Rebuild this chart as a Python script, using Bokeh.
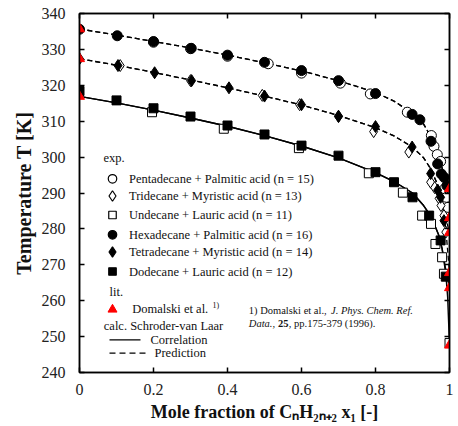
from bokeh.plotting import figure
from bokeh.models import Label, LinearAxis, Range1d, FixedTicker
from bokeh.embed import file_html
from bokeh.resources import INLINE

# ---------------- data ----------------
x_ticks = [0, 0.2, 0.4, 0.6, 0.8, 1]
x_tick_labels = ["0", "0.2", "0.4", "0.6", "0.8", "1"]
y_ticks = [240, 250, 260, 270, 280, 290, 300, 310, 320, 330, 340]

# calculated liquidus curves (Schroder-van Laar)
curve_x = [0, 0.1, 0.2, 0.3, 0.4, 0.5, 0.6, 0.7, 0.8, 0.85, 0.9, 0.93, 0.95, 0.97, 0.98, 0.99, 1.0]
hexadecane_curve = [335.7, 334.0, 332.2, 330.4, 328.4, 326.3, 324.0, 321.3, 318.0, 315.6, 312.2, 309.2, 305.6, 300.5, 297.0, 293.2, 291.2]
pentadecane_curve_x = [0, 0.1, 0.2, 0.3, 0.4, 0.5, 0.6, 0.7, 0.8, 0.85, 0.9, 0.93, 0.95, 0.97, 0.98, 0.99, 0.995, 1.0]
pentadecane_curve = [335.7, 334.0, 332.2, 330.4, 328.4, 326.3, 324.0, 321.3, 318.0, 315.6, 312.2, 309.2, 305.6, 300.5, 297.0, 290.5, 285.5, 283.1]
tetradecane_curve = [327.4, 325.6, 323.6, 321.5, 319.3, 317.0, 314.5, 311.6, 308.2, 305.9, 302.8, 299.8, 296.6, 291.8, 288.2, 283.0, 279.0]
tridecane_curve_x = [0, 0.1, 0.2, 0.3, 0.4, 0.5, 0.6, 0.7, 0.8, 0.85, 0.9, 0.93, 0.95, 0.97, 0.98, 0.99, 0.995, 1.0]
tridecane_curve = [327.4, 325.6, 323.6, 321.5, 319.3, 317.0, 314.5, 311.6, 308.2, 305.9, 302.8, 299.8, 296.6, 291.8, 287.5, 280.0, 274.0, 267.8]
dodecane_curve = [316.9, 315.1, 313.1, 310.9, 308.6, 306.0, 303.1, 299.8, 295.7, 293.2, 290.0, 286.5, 283.5, 278.5, 274.5, 268.5, 263.6]
undecane_curve_x = [0, 0.1, 0.2, 0.3, 0.4, 0.5, 0.6, 0.7, 0.8, 0.85, 0.9, 0.93, 0.95, 0.97, 0.98, 0.99, 0.995, 1.0]
undecane_curve = [316.9, 315.1, 313.1, 310.9, 308.6, 306.0, 303.1, 299.8, 295.7, 293.2, 290.0, 286.5, 283.5, 278.5, 274.5, 267.5, 261.0, 247.6]

# experimental data
pentadecane_x = [0.2, 0.3, 0.4, 0.51, 0.6, 0.705, 0.786, 0.886, 0.951, 0.958, 0.967, 0.976, 0.987, 0.992, 0.996]
pentadecane_T = [332.0, 330.2, 328.1, 326.0, 323.4, 320.6, 317.6, 312.5, 306.0, 303.0, 300.7, 298.8, 291.2, 288.8, 286.0]
tridecane_x = [0.11, 0.3, 0.494, 0.595, 0.7, 0.795, 0.89, 0.949, 0.96, 0.972, 0.977, 0.985, 0.99]
tridecane_T = [325.5, 321.3, 317.2, 314.6, 311.4, 307.1, 301.4, 293.0, 291.5, 288.5, 286.5, 283.7, 279.1]
undecane_x = [0.196, 0.39, 0.593, 0.782, 0.874, 0.926, 0.95, 0.962, 0.98, 0.985, 1.0]
undecane_T = [312.5, 307.9, 302.5, 295.5, 290.1, 283.7, 281.4, 275.8, 272.1, 267.5, 248.2]
hexadecane_x = [0.0, 0.102, 0.2, 0.302, 0.4, 0.5, 0.6, 0.7, 0.8, 0.899, 0.92, 0.95, 0.968, 0.978, 0.986, 0.993]
hexadecane_T = [335.6, 333.8, 332.2, 330.3, 328.4, 326.4, 324.1, 321.3, 317.7, 311.9, 310.4, 304.4, 298.1, 295.3, 294.3, 292.0]
tetradecane_x = [0.0, 0.104, 0.203, 0.303, 0.404, 0.5, 0.6, 0.7, 0.8, 0.899, 0.949, 0.968, 0.976, 0.985]
tetradecane_T = [327.4, 325.5, 323.5, 321.3, 319.3, 317.0, 314.6, 311.3, 308.5, 302.8, 295.4, 290.8, 288.8, 282.3]
dodecane_x = [0.0, 0.1, 0.2, 0.3, 0.4, 0.5, 0.6, 0.7, 0.8, 0.85, 0.9, 0.945, 0.976, 0.99]
dodecane_T = [318.4, 315.8, 313.6, 311.3, 308.8, 306.3, 303.2, 300.4, 295.8, 293.0, 288.8, 283.7, 276.8, 266.7]

# literature (Domalski et al.)
lit_x = [0, 0, 0, 1, 1, 1, 1, 1, 1]
lit_T = [335.7, 327.4, 316.9, 291.2, 283.1, 279.0, 267.8, 263.6, 247.6]

legend_names = [
    "Pentadecane  + Palmitic acid (n = 15)",
    "Tridecane + Myristic acid (n = 13)",
    "Undecane + Lauric acid (n = 11)",
    "Hexadecane  + Palmitic acid (n = 16)",
    "Tetradecane + Myristic acid (n = 14)",
    "Dodecane + Lauric acid (n = 12)",
]

# ---------------- layout helpers ----------------
FL, FR, FT, FB = 79, 449, 13, 372
X0, X1, Y0, Y1 = 0.0, 1.0, 240.0, 340.0


def dx(px):
    return X0 + (px - FL) * (X1 - X0) / (FR - FL)


def dy(py):
    return Y1 - (py - FT) * (Y1 - Y0) / (FB - FT)


FONT = "Liberation Serif"

p = figure(width=458, height=426, x_range=Range1d(X0, X1), y_range=Range1d(Y0, Y1),
           output_backend="svg", toolbar_location=None,
           min_border_left=FL, min_border_right=458 - FR, min_border_top=FT, min_border_bottom=426 - FB)
p.grid.visible = False
p.outline_line_color = "black"
p.outline_line_width = 1.5

xt = FixedTicker(ticks=x_ticks)
yt = FixedTicker(ticks=y_ticks)
p.xaxis.ticker = xt
p.yaxis.ticker = yt
p.xaxis.major_label_overrides = {t: s for t, s in zip(x_ticks, x_tick_labels)}

for ax in [p.xaxis[0], p.yaxis[0]]:
    ax.major_tick_in = 5
    ax.major_tick_out = 0
    ax.minor_tick_line_color = None
    ax.axis_line_width = 1.5
    ax.major_tick_line_width = 1.5
    ax.major_label_text_font = FONT
    ax.major_label_text_font_size = "16px"
    ax.major_label_text_color = "#222222"
p.xaxis.major_label_standoff = 11
p.yaxis.major_label_standoff = 14
p.yaxis.axis_label = "Temperature T [K]"
p.yaxis.axis_label_text_font = FONT
p.yaxis.axis_label_text_font_size = "20px"
p.yaxis.axis_label_text_font_style = "bold"
p.yaxis.axis_label_text_color = "#111111"
p.yaxis.axis_label_standoff = 4
p.xaxis.axis_label = "Mole fraction of CₙH₂ₙ₊₂ x₁ [-]"
p.xaxis.axis_label_text_font = FONT
p.xaxis.axis_label_text_font_size = "18px"
p.xaxis.axis_label_text_font_style = "bold"
p.xaxis.axis_label_text_color = "#111111"
p.xaxis.axis_label_standoff = 4

for loc, tk, ticks in [("right", yt, y_ticks), ("above", xt, x_ticks)]:
    ax = LinearAxis(ticker=tk, major_tick_in=5, major_tick_out=0, minor_tick_line_color=None,
                    axis_line_width=1.5, major_tick_line_width=1.5,
                    major_label_overrides={t: "" for t in ticks},
                    major_label_text_font_size="1px", major_label_standoff=0)
    p.add_layout(ax, loc)

# curves
dash = "5 3"
p.line(pentadecane_curve_x, pentadecane_curve, line_color="black", line_width=1.3, line_dash=dash)
p.line(curve_x, hexadecane_curve, line_color="black", line_width=1.3, line_dash=dash)
p.line(tridecane_curve_x, tridecane_curve, line_color="black", line_width=1.3, line_dash=dash)
p.line(curve_x, tetradecane_curve, line_color="black", line_width=1.3, line_dash=dash)
p.line(undecane_curve_x, undecane_curve, line_color="black", line_width=1.4)
p.line(curve_x, dodecane_curve, line_color="black", line_width=1.4)

# markers
styles = [
    (pentadecane_x, pentadecane_T, "circle", 10, "white"),
    (tridecane_x, tridecane_T, "diamond", 12, "white"),
    (undecane_x, undecane_T, "square", 9, "white"),
    (hexadecane_x, hexadecane_T, "circle", 10, "black"),
    (tetradecane_x, tetradecane_T, "diamond", 12, "black"),
    (dodecane_x, dodecane_T, "square", 9, "black"),
]
for xs, ys, mk, sz, fc in styles:
    p.scatter(xs, ys, marker=mk, size=sz, fill_color=fc, line_color="black", line_width=1)
p.scatter(lit_x, lit_T, marker="triangle", size=10, fill_color="red", line_color="red")


def label(px, py, text, size="12.5px", style="normal", baseline="middle"):
    p.add_layout(Label(x=dx(px), y=dy(py), text=text, text_font=FONT, text_font_size=size,
                       text_font_style=style, text_baseline=baseline, text_align="left",
                       text_color="#111111"))


# legend
label(103, 157, "exp.")
rows_y = [178.3, 195.5, 214.5, 234.3, 251.5, 271]
for (xs, ys, mk, sz, fc), ry, name in zip(styles, rows_y, legend_names):
    p.scatter([dx(112)], [dy(ry)], marker=mk, size=sz - 1.5, fill_color=fc, line_color="black", line_width=1.2)
    label(128.5, ry, name)
label(109, 291.7, "lit.")
p.scatter([dx(112)], [dy(309)], marker="triangle", size=9, fill_color="red", line_color="red")
label(131.7, 308.8, "Domalski et al.")
label(212, 305, "1)", size="8px")
label(103.3, 325, "calc. Schroder-van Laar")
p.line([dx(109), dx(140)], [dy(339.3), dy(339.3)], line_color="black", line_width=1.3)
label(150, 339.3, "Correlation")
p.line([dx(109), dx(149)], [dy(352.7), dy(352.7)], line_color="black", line_width=1.3, line_dash="6 4")
label(154, 352.7, "Prediction")

# footnote
label(248.3, 309.7, "1) Domalski et al.,", size="10.5px")
label(330.5, 309.7, "J. Phys. Chem. Ref.", size="10.5px", style="italic")
label(248.3, 322.5, "Data.,", size="10.5px", style="italic")
label(277.5, 322.5, "25", size="10.5px", style="bold")
label(288.3, 322.5, ", pp.175-379 (1996).", size="10.5px")

open("out.html", "w").write(file_html(p, INLINE))
